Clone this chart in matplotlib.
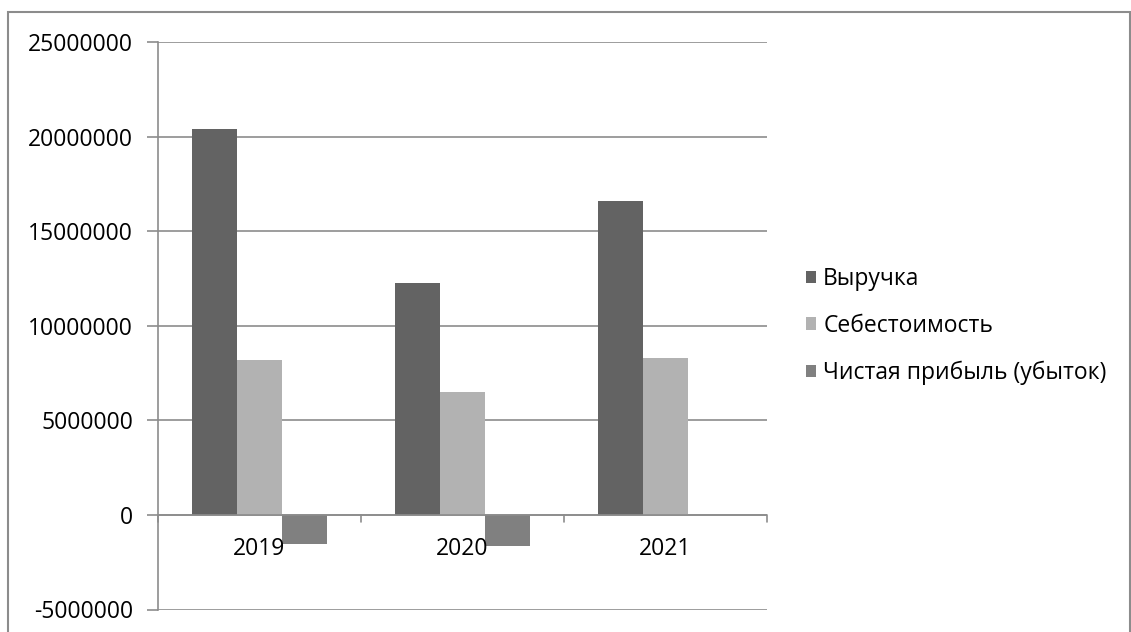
import matplotlib as mpl
mpl.use('agg')
import matplotlib.pyplot as plt
from matplotlib.patches import Rectangle
import numpy as np

years = ['2019', '2020', '2021']
series_names = ['Выручка', 'Себестоимость', 'Чистая прибыль (убыток)']
revenue = [20400000, 12250000, 16600000]
cost = [8200000, 6520000, 8320000]
net_profit = [-1550000, -1620000, 0]
yticks = [-5000000, 0, 5000000, 10000000, 15000000, 20000000, 25000000]

COLORS = ['#636363', '#b2b2b2', '#808080']
GRID = '#8c8c8c'
FONT = ['Open Sans', 'DejaVu Sans']
FS = 16.5


def main():
    plt.rcParams['font.family'] = FONT
    W, H = 1131, 632
    fig = plt.figure(figsize=(W / 100, H / 100), dpi=100)
    ax = fig.add_axes([158 / W, 1 - 609.5 / H, 609 / W, 567.3 / H])

    # clustered columns, gap width 150%
    x = np.arange(len(years))
    width = 1 / 4.5
    for k, vals in enumerate([revenue, cost, net_profit]):
        ax.bar(x + (k - 1) * width, vals, width, color=COLORS[k],
               label=series_names[k], zorder=3, linewidth=0)

    ax.set_xlim(-0.5, len(years) - 0.5)
    ax.set_ylim(yticks[0], yticks[-1])
    ax.set_yticks(yticks)
    ax.set_yticklabels([str(v) for v in yticks], fontsize=FS)
    ax.tick_params(axis='y', length=8, color=GRID, width=1.2, pad=10)
    ax.set_xticks([])
    ax.grid(axis='y', color=GRID, linewidth=1.2, zorder=0)
    for side in ['top', 'right', 'bottom']:
        ax.spines[side].set_visible(False)
    ax.spines['left'].set_color(GRID)
    ax.spines['left'].set_linewidth(1.2)

    # category axis sits at zero
    ax.axhline(0, color=GRID, linewidth=1.2, zorder=4)
    for b in np.arange(len(years) + 1) - 0.5:
        ax.annotate('', xy=(b, 0), xycoords='data',
                    xytext=(0, -7), textcoords='offset pixels',
                    arrowprops=dict(arrowstyle='-', color=GRID, lw=1.2,
                                    shrinkA=0, shrinkB=0))
    for i, yr in enumerate(years):
        ax.annotate(yr, xy=(i, 0), xycoords='data', xytext=(0, -34),
                    textcoords='offset pixels', ha='center', va='center',
                    fontsize=FS)

    fig.legend(loc='center left', bbox_to_anchor=(806 / W, 1 - 326 / H),
               frameon=False, fontsize=FS, handlelength=0.45,
               handleheight=0.45, handletextpad=0.3, labelspacing=1.0,
               borderpad=0, borderaxespad=0)

    # chart border
    fig.add_artist(Rectangle((8 / W, -0.05), 1122 / W, 1.05 - 12 / H,
                             transform=fig.transFigure, fill=False,
                             edgecolor='#8c8c8c', linewidth=1.5))

    fig.savefig('out.png', dpi=100)


if __name__ == '__main__':
    main()
